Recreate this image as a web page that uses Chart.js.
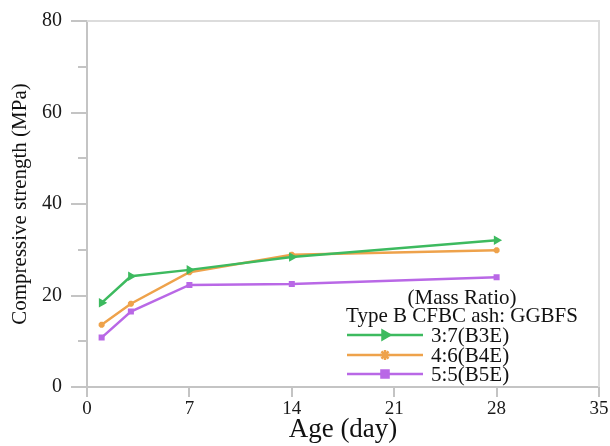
<!DOCTYPE html>
<html lang="en">
<head>
    <meta charset="UTF-8">
    <title>Compressive strength</title>
    <style>
        body { margin: 0; background: #fff; }
        #wrap { width: 610px; height: 446px; }
    </style>
</head>
<body>
    <script src="https://cdn.jsdelivr.net/npm/chart.js"></script>
    <div id="wrap"><canvas id="myLineChart"></canvas></div>
    <script>
        // data
        const ages = [1, 3, 7, 14, 28];
        const b3e = [18.4, 24.2, 25.6, 28.4, 32.1];
        const b4e = [13.6, 18.2, 25.1, 28.9, 29.9];
        const b5e = [10.8, 16.5, 22.3, 22.5, 24.0];
        const seriesLabels = ['3:7(B3E)', '4:6(B4E)', '5:5(B5E)'];
        const legendTitle = ['(Mass Ratio)', 'Type B CFBC ash: GGBFS'];
        const xTicks = [0, 7, 14, 21, 28, 35];
        const yTicks = [0, 20, 40, 60, 80];

        const axisGray = '#c4c4c4';
        const serif = "'Liberation Serif', 'Times New Roman', serif";

        function pts(vals) {
            return ages.map((a, i) => ({ x: a, y: vals[i] }));
        }

        // frame on top/right + legend box drawn inside the plot
        const framePlugin = {
            id: 'frame',
            beforeDatasetsDraw(chart) {
                const a = chart.chartArea, ctx = chart.ctx;
                ctx.save();
                ctx.strokeStyle = '#dcdcdc';
                ctx.lineWidth = 2;
                ctx.beginPath();
                ctx.moveTo(a.left, a.top);
                ctx.lineTo(a.right, a.top);
                ctx.lineTo(a.right, a.bottom);
                ctx.stroke();
                ctx.restore();
            },
            afterDraw(chart) {
                const ctx = chart.ctx;
                ctx.save();
                ctx.fillStyle = '#111';
                ctx.font = '21px ' + serif;
                ctx.textAlign = 'center';
                ctx.textBaseline = 'middle';
                ctx.fillText(legendTitle[0], 462, 298);
                ctx.fillText(legendTitle[1], 462, 316);
                const rows = [335, 355, 374];
                chart.data.datasets.forEach((ds, i) => {
                    const y = rows[i];
                    ctx.strokeStyle = ds.borderColor;
                    ctx.lineWidth = ds.borderWidth;
                    ctx.beginPath();
                    ctx.moveTo(347, y);
                    ctx.lineTo(423, y);
                    ctx.stroke();
                    if (Chart.helpers && Chart.helpers.drawPoint) {
                        ctx.fillStyle = ds.borderColor;
                        Chart.helpers.drawPoint(ctx, {
                            pointStyle: ds.pointStyle,
                            rotation: ds.pointRotation || 0,
                            radius: 5,
                            borderWidth: 1
                        }, 385, y);
                    }
                    ctx.fillStyle = '#111';
                    ctx.textAlign = 'left';
                    ctx.fillText(ds.label, 431, y + 1);
                });
                ctx.restore();
            }
        };

        const ctx = document.getElementById('myLineChart').getContext('2d');
        const myLineChart = new Chart(ctx, {
            type: 'line',
            data: {
                datasets: [{
                    label: seriesLabels[0],
                    data: pts(b3e),
                    borderColor: '#3dba5f',
                    backgroundColor: '#3dba5f',
                    borderWidth: 2.5,
                    pointStyle: 'triangle',
                    pointRotation: 90,
                    pointRadius: 3
                }, {
                    label: seriesLabels[1],
                    data: pts(b4e),
                    borderColor: '#eea24b',
                    backgroundColor: '#eea24b',
                    borderWidth: 2.5,
                    pointStyle: 'star',
                    pointRadius: 3
                }, {
                    label: seriesLabels[2],
                    data: pts(b5e),
                    borderColor: '#b968e6',
                    backgroundColor: '#b968e6',
                    borderWidth: 2.5,
                    pointStyle: 'rect',
                    pointRadius: 2.5
                }]
            },
            options: {
                responsive: true,
                maintainAspectRatio: false,
                animation: false,
                layout: { padding: { top: 21, right: 11, left: 0, bottom: 0 } },
                plugins: {
                    legend: { display: false },
                    tooltip: { enabled: false }
                },
                scales: {
                    x: {
                        type: 'linear',
                        min: 0,
                        max: 35,
                        afterBuildTicks: s => { s.ticks = xTicks.map(v => ({ value: v })); },
                        afterFit: s => { s.height = 59; },
                        grid: { drawOnChartArea: false, tickLength: 10, color: axisGray, lineWidth: 2 },
                        border: { color: axisGray, width: 2 },
                        ticks: { color: '#1a1a1a', font: { family: serif, size: 19 }, padding: 1, maxRotation: 0 },
                        title: { display: true, text: 'Age (day)', color: '#111', font: { family: serif, size: 27 }, padding: 0 }
                    },
                    y: {
                        min: 0,
                        max: 80,
                        weight: 1,
                        afterBuildTicks: s => { s.ticks = yTicks.map(v => ({ value: v })); },
                        afterFit: s => { s.width = 87; },
                        grid: { drawOnChartArea: false, tickLength: 16, color: axisGray, lineWidth: 2 },
                        border: { color: axisGray, width: 2 },
                        ticks: { color: '#1a1a1a', font: { family: serif, size: 20 }, padding: 9 },
                        title: { display: true, text: 'Compressive strength (MPa)', color: '#111', font: { family: serif, size: 21 }, padding: { top: 8, bottom: 0 } }
                    },
                    yMinor: {
                        position: 'left',
                        min: 0,
                        max: 80,
                        weight: 0,
                        afterBuildTicks: s => { s.ticks = [10, 30, 50, 70].map(v => ({ value: v })); },
                        afterFit: s => { s.width = 0; },
                        grid: { drawOnChartArea: false, tickLength: 9, color: axisGray, lineWidth: 2 },
                        border: { display: false },
                        ticks: { display: false }
                    }
                }
            },
            plugins: [framePlugin]
        });
    </script>
</body>
</html>
